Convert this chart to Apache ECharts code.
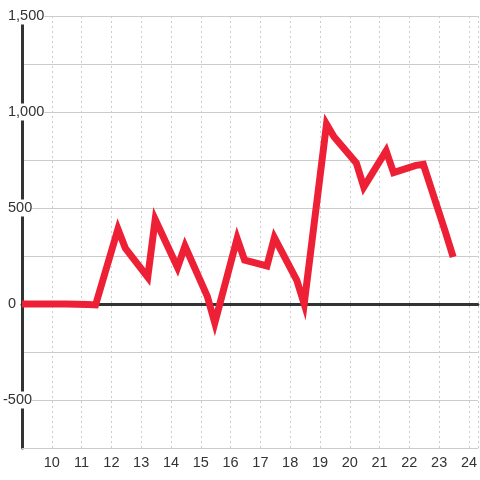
<!DOCTYPE html>
<html>
<head>
<meta charset="utf-8">
<script src="https://cdn.jsdelivr.net/npm/echarts@6/dist/echarts.min.js"></script>
<style>
  html, body { margin: 0; padding: 0; background: #fff; }
  #chart { width: 480px; height: 480px; }
</style>
</head>
<body>
<div id="chart"></div>
<script>
// hours of day (decimal) and values
const hours = [9, 9.22, 9.47, 10.22, 10.47, 11.22, 11.47, 12.22, 12.47, 13.22, 13.47,
  14.22, 14.47, 15.22, 15.47, 16.22, 16.47, 17.22, 17.47, 18.22, 18.47,
  19.22, 19.47, 20.22, 20.47, 21.22, 21.47, 22.22, 22.47, 23.22, 23.47];
const values = [0, 0, 0, 0, 0, -3, -5, 390, 290, 140, 440,
  190, 302, 40, -99, 341, 229, 198, 346, 125, 0,
  937, 871, 734, 609, 797, 684, 722, 727, 370, 245];
const xMin = 9, xMax = 24.3;
const yMin = -750, yMax = 1500;

const chart = echarts.init(document.getElementById('chart'));
const font = 'Liberation Sans, Arial, sans-serif';

chart.setOption({
  animation: false,
  grid: { left: 21, right: 0, top: 16, bottom: 32 },
  xAxis: [
    {
      type: 'value',
      min: xMin,
      max: xMax,
      interval: 1,
      axisLine: { onZero: false, lineStyle: { color: '#ccc', width: 1 } },
      axisTick: { show: false },
      axisLabel: {
        color: '#333', fontSize: 14.5, fontFamily: font, margin: 7,
        showMinLabel: false, showMaxLabel: false,
        formatter: v => String(Math.round(v))
      },
      splitLine: { show: true, lineStyle: { color: '#ccc', type: [2, 3] } }
    },
    {
      // dark zero line
      type: 'value',
      position: 'bottom',
      min: xMin,
      max: xMax,
      axisLine: { show: true, onZero: true, lineStyle: { color: '#333', width: 3 } },
      axisTick: { show: false },
      axisLabel: { show: false },
      splitLine: { show: false }
    }
  ],
  yAxis: {
    type: 'value',
    min: yMin,
    max: yMax,
    interval: 250,
    axisLine: { show: true, onZero: false, lineStyle: { color: '#333', width: 3 } },
    axisTick: { show: false },
    axisLabel: {
      align: 'left',
      margin: 19,
      formatter: v => {
        if (v % 500 !== 0 || v === yMin) return '';
        return v < 0 ? '{n|' + v + '}' : '{p|' + v.toLocaleString('en-US') + '}';
      },
      rich: {
        p: {
          color: '#333', fontSize: 14.5, fontFamily: font,
          backgroundColor: '#fff', padding: [1, 0, 1, 5]
        },
        n: {
          color: '#333', fontSize: 14.5, fontFamily: font,
          backgroundColor: '#fff', padding: [1, 0, 1, 0]
        }
      }
    },
    splitLine: { show: true, lineStyle: { color: '#ccc', width: 1 } }
  },
  series: [{
    type: 'line',
    xAxisIndex: 0,
    data: hours.map((h, i) => [h, values[i]]),
    showSymbol: false,
    z: 5,
    lineStyle: { color: '#ee2036', width: 7, join: 'miter', cap: 'butt' }
  }]
});
</script>
</body>
</html>
